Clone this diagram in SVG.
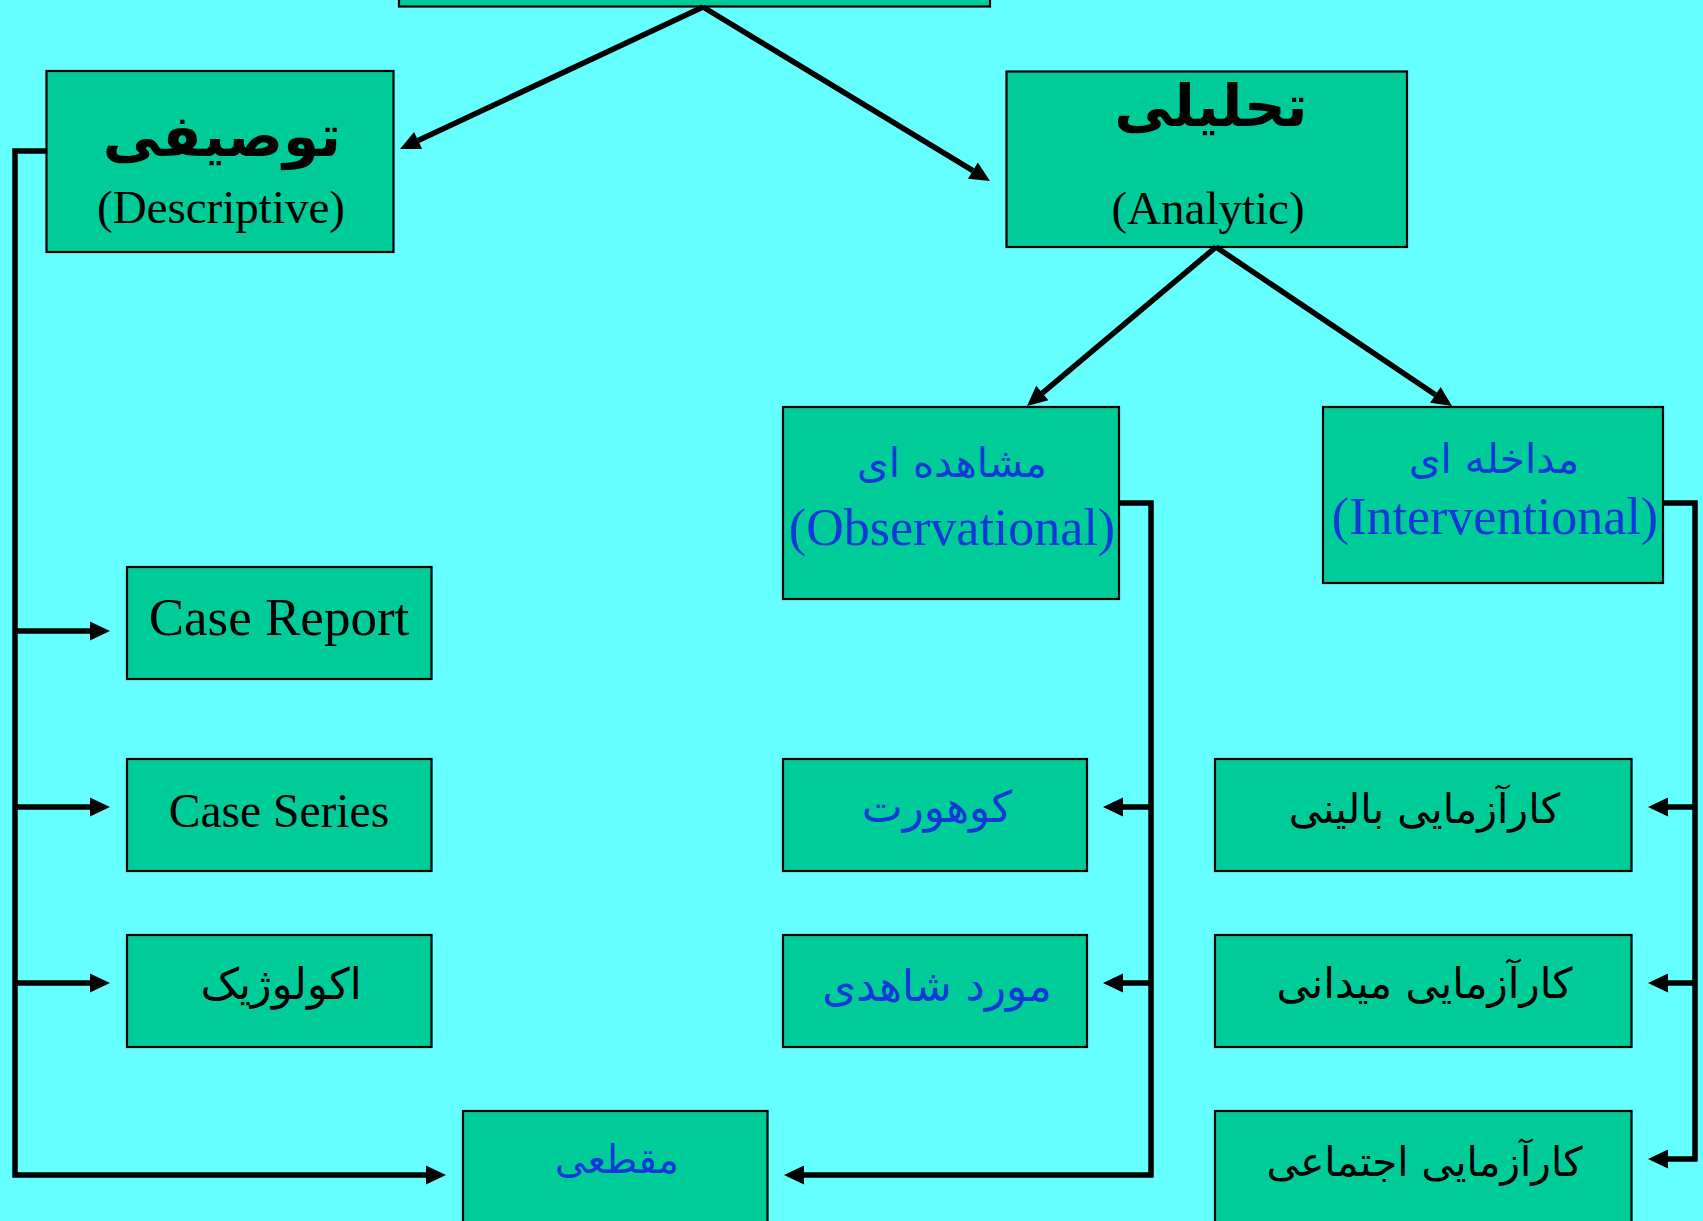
<svg xmlns="http://www.w3.org/2000/svg" width="1703" height="1221" viewBox="0 0 1703 1221">
  <style>
    .box { fill: #00CC99; stroke: #000; stroke-width: 2.2; }
    .link { fill: none; stroke: #000; stroke-width: 5.5; stroke-linejoin: miter; }
    .en { font-family: "Liberation Serif", "Times New Roman", serif; text-anchor: middle; }
    .fa { font-family: "DejaVu Sans", "Noto Sans", sans-serif; text-anchor: middle; }
    .black { fill: #000; }
    .blue { fill: #1438D8; }
  </style>
  <defs>
    <marker id="head" markerUnits="userSpaceOnUse" markerWidth="21" markerHeight="20" refX="0" refY="9.5" orient="auto" overflow="visible">
      <path d="M0,0 L20,9.5 L0,19 Z" fill="#000"/>
    </marker>
  </defs>

  <rect width="1703" height="1221" fill="#66FFFF"/>

  <!-- root box, mostly above the top edge -->
  <g id="root">
    <rect class="box" x="399" y="-40" width="591" height="46.5"/>
  </g>

  <g id="descriptive">
    <rect class="box" x="46.5" y="71" width="347" height="181"/>
    <text class="fa black" x="222" y="156" font-size="58" font-weight="bold">توصیفی</text>
    <text class="en black" x="221" y="223" font-size="47">(Descriptive)</text>
  </g>

  <g id="analytic">
    <rect class="box" x="1006.5" y="71.5" width="400.5" height="175.5"/>
    <text class="fa black" x="1211" y="126" font-size="58" font-weight="bold">تحلیلی</text>
    <text class="en black" x="1208" y="224" font-size="47">(Analytic)</text>
  </g>

  <g id="observational">
    <rect class="box" x="783" y="407" width="336" height="192"/>
    <text class="fa blue" x="952" y="477" font-size="40.5">مشاهده ای</text>
    <text class="en blue" x="952" y="545" font-size="52">(Observational)</text>
  </g>

  <g id="interventional">
    <rect class="box" x="1323" y="407" width="340" height="176"/>
    <text class="fa blue" x="1494" y="473" font-size="40.5">مداخله ای</text>
    <text class="en blue" x="1495" y="534" font-size="52">(Interventional)</text>
  </g>

  <g id="case-report">
    <rect class="box" x="127" y="567" width="304.5" height="112"/>
    <text class="en black" x="279" y="634.5" font-size="53">Case Report</text>
  </g>

  <g id="case-series">
    <rect class="box" x="127" y="759" width="304.5" height="112"/>
    <text class="en black" x="279" y="826.5" font-size="47.5">Case Series</text>
  </g>

  <g id="ecologic">
    <rect class="box" x="127" y="935" width="304.5" height="112"/>
    <text class="fa black" x="281" y="999" font-size="43">اکولوژیک</text>
  </g>

  <g id="cross-sectional">
    <rect class="box" x="463" y="1111" width="304.5" height="130"/>
    <text class="fa blue" x="617" y="1173" font-size="39">مقطعی</text>
  </g>

  <g id="cohort">
    <rect class="box" x="783" y="759" width="304" height="112"/>
    <text class="fa blue" x="937" y="822" font-size="43.5">کوهورت</text>
  </g>

  <g id="case-control">
    <rect class="box" x="783" y="935" width="304" height="112"/>
    <text class="fa blue" x="937" y="1001" font-size="43.5">مورد شاهدی</text>
  </g>

  <g id="clinical-trial">
    <rect class="box" x="1215" y="759" width="416.5" height="112"/>
    <text class="fa black" x="1424.5" y="823" font-size="41">کارآزمایی بالینی</text>
  </g>

  <g id="field-trial">
    <rect class="box" x="1215" y="935" width="416.5" height="112"/>
    <text class="fa black" x="1424.5" y="998" font-size="42">کارآزمایی میدانی</text>
  </g>

  <g id="community-trial">
    <rect class="box" x="1215" y="1111" width="416.5" height="130"/>
    <text class="fa black" x="1424.5" y="1176" font-size="40.5">کارآزمایی اجتماعی</text>
  </g>

  <g id="connectors">
    <!-- root to the two main branches -->
    <path class="link" d="M703,7 L418.1,140.5" marker-end="url(#head)"/>
    <path class="link" d="M703,7 L972.9,170.6" marker-end="url(#head)"/>
    <!-- analytic split -->
    <path class="link" d="M1216,247 L1042.3,393.1" marker-end="url(#head)"/>
    <path class="link" d="M1216,247 L1435.4,394.8" marker-end="url(#head)"/>
    <!-- descriptive trunk -->
    <path class="link" d="M46.5,151 L15,151 L15,1175 L426,1175" marker-end="url(#head)"/>
    <path class="link" d="M15,631 L90,631" marker-end="url(#head)"/>
    <path class="link" d="M15,807 L90,807" marker-end="url(#head)"/>
    <path class="link" d="M15,983 L90,983" marker-end="url(#head)"/>
    <!-- observational trunk -->
    <path class="link" d="M1119,503 L1151,503 L1151,1175 L804,1175" marker-end="url(#head)"/>
    <path class="link" d="M1151,807 L1123,807" marker-end="url(#head)"/>
    <path class="link" d="M1151,983 L1123,983" marker-end="url(#head)"/>
    <!-- interventional trunk -->
    <path class="link" d="M1663,503 L1695,503 L1695,1159 L1668,1159" marker-end="url(#head)"/>
    <path class="link" d="M1695,807 L1668,807" marker-end="url(#head)"/>
    <path class="link" d="M1695,983 L1668,983" marker-end="url(#head)"/>
  </g>
</svg>
